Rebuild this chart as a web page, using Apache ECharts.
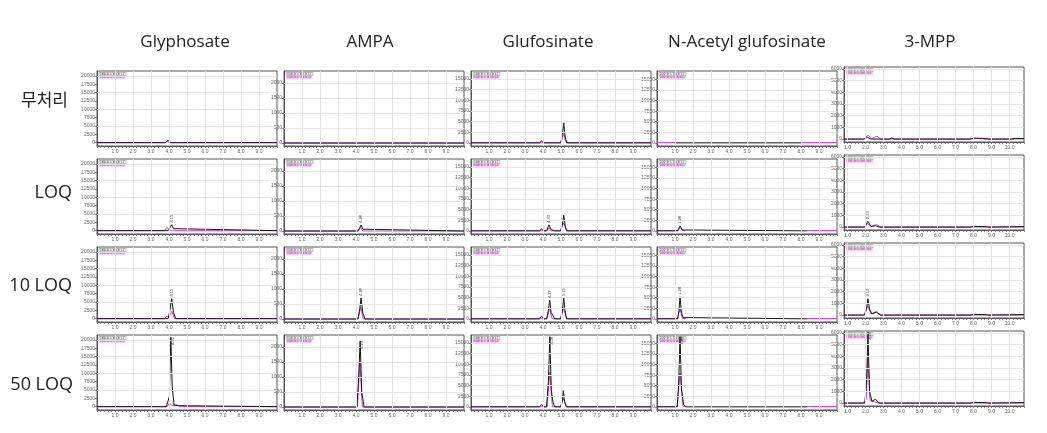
<!DOCTYPE html>
<html><head><meta charset="utf-8">
<script src="https://cdn.jsdelivr.net/npm/echarts@6/dist/echarts.min.js"></script>
<style>html,body{margin:0;padding:0;background:#fff}#c{width:1047px;height:433px}</style>
</head><body><div id="c"></div><script>
// ---------- labels ----------
const colNames = ['Glyphosate', 'AMPA', 'Glufosinate', 'N-Acetyl glufosinate', '3-MPP'];
const rowNames = ['무처리', 'LOQ', '10 LOQ', '50 LOQ'];
const mrmQuant = ['168.0 > 63.0 (-)', '110.0 > 63.0 (-)', '180.0 > 63.0 (-)', '222.0 > 59.0 (-)', '151.0 > 63.0 (-)'];
const mrmQual  = ['168.0 > 150.0 (-)', '110.0 > 79.0 (-)', '180.0 > 95.0 (-)', '222.0 > 136.0 (-)', '151.0 > 107.0 (-)'];
// ---------- axes ----------
const xMinByCol = [0, 0, 0, 0, 0.8];
const xMaxByCol = [10, 10, 10, 10, 10.8];
const xTicksA = [1, 2, 3, 4, 5, 6, 7, 8, 9];
const xTicksB = [1, 2, 3, 4, 5, 6, 7, 8, 9, 10];
const yMinByCol = [-1000, -100, -750, -750, -250];
const yMaxByCol = [21500, 2400, 16900, 17000, 6150];
const yTicksGly  = [0, 2500, 5000, 7500, 10000, 12500, 15000, 17500, 20000];
const yTicksAmpa = [0, 500, 1000, 1500, 2000];
const yTicksGluf = [0, 2500, 5000, 7500, 10000, 12500, 15000];
const yTicksNag  = [0, 2500, 5000, 7500, 10000, 12500, 15000];
const yTicksMpp  = [0, 1000, 2000, 3000, 4000, 5000, 6000];
const yGridGly  = [5000, 10000, 15000, 20000];
const yGridAmpa = [500, 1000, 1500, 2000];
const yGridGluf = [2500, 5000, 7500, 10000, 12500, 15000];
const yGridNag  = [2500, 5000, 7500, 10000, 12500, 15000];
const yGridMpp  = [1000, 2000, 3000, 4000, 5000, 6000];

// ---------- traces (retention time, intensity); columns: Gly, AMPA, Gluf, N-Ac gluf, 3-MPP ----------
const untreatedQuant = [
  [[0,0],[3.8,0],[3.95,700],[4.1,0],[4.4,0],[4.5,300],[4.6,0],[10,0]],
  [[0,0],[10,0]],
  [[0,0],[3.8,0],[3.92,400],[4.05,0],[4.45,0],[4.55,350],[4.65,0],[4.98,0],[5.08,2000],[5.15,4700],[5.23,1500],[5.32,0],[10,0]],
  [[0.95,0],[8.05,0]],
  [[0.8,0],[1.9,0],[2.1,150],[2.3,0],[3.3,0],[3.45,80],[3.6,0],[5.0,0],[5.1,60],[5.2,0],[7.8,0],[8.0,80],[8.5,60],[8.9,0],[10.1,0],[10.3,60],[10.8,50]]
];
const untreatedQual = [
  [[0,0],[3.78,0],[3.9,500],[4.02,0],[10,0]],
  [[0,0],[10,0]],
  [[0,0],[4.98,0],[5.08,1000],[5.15,2500],[5.23,800],[5.32,0],[10,0]],
  [[0,60],[0.95,60],[1.0,'-'],[8.0,'-'],[8.05,60],[10,60]],
  [[0.8,0],[1.9,0],[2.13,330],[2.35,50],[2.63,250],[2.85,0],[7.8,0],[8.2,60],[8.6,0],[10.8,0]]
];
const loqQuant = [
  [[0,0],[3.95,0],[4.05,900],[4.15,1800],[4.25,600],[4.35,0],[10,0]],
  [[0,0],[4.1,0],[4.2,100],[4.28,200],[4.38,60],[4.48,0],[10,0]],
  [[0,0],[3.8,0],[3.92,400],[4.05,0],[4.2,0],[4.33,1400],[4.45,300],[4.55,200],[4.65,0],[4.98,0],[5.08,1600],[5.15,3700],[5.23,1200],[5.32,0],[10,0]],
  [[0,0],[1.15,0],[1.28,1200],[1.4,200],[1.5,0],[8.35,0]],
  [[0.8,0],[1.95,0],[2.13,500],[2.3,60],[2.55,120],[2.75,0],[3.4,0],[3.5,60],[3.6,0],[7.8,0],[8.0,60],[8.6,40],[8.9,0],[10.8,40]]
];
const loqQual = [
  [[0,0],[3.75,0],[3.88,1000],[4.0,300],[4.1,700],[4.2,0],[10,0]],
  [[0,0],[4.12,0],[4.25,120],[4.38,0],[10,0]],
  [[0,0],[4.22,0],[4.33,700],[4.45,0],[4.98,0],[5.15,1800],[5.32,0],[10,0]],
  [[0,60],[1.15,60],[1.28,600],[1.42,60],[1.6,60],[1.7,'-'],[8.3,'-'],[8.35,60],[10,60]],
  [[0.8,0],[1.95,0],[2.1,300],[2.3,50],[2.6,200],[2.85,0],[10.8,0]]
];
const loq10Quant = [
  [[0,0],[3.95,0],[4.05,2500],[4.15,6000],[4.25,1800],[4.38,0],[10,0]],
  [[0,0],[4.1,0],[4.2,300],[4.28,700],[4.38,200],[4.5,0],[10,0]],
  [[0,0],[3.8,0],[3.92,600],[4.05,0],[4.2,0],[4.3,2000],[4.37,4400],[4.45,1500],[4.55,800],[4.65,0],[4.98,0],[5.08,2000],[5.15,4900],[5.23,1500],[5.32,0],[10,0]],
  [[0,0],[1.15,0],[1.22,2000],[1.28,5200],[1.36,1500],[1.45,300],[1.55,0],[8.35,0]],
  [[0.8,0],[1.95,0],[2.05,500],[2.13,1400],[2.22,500],[2.35,100],[2.6,250],[2.8,0],[3.4,0],[3.5,60],[3.6,0],[7.8,0],[8.0,60],[8.6,40],[8.9,0],[10.8,40]]
];
const loq10Qual = [
  [[0,0],[3.75,0],[3.88,800],[4.0,500],[4.15,2200],[4.3,0],[10,0]],
  [[0,0],[4.12,0],[4.27,400],[4.4,0],[10,0]],
  [[0,0],[4.22,0],[4.37,2500],[4.5,0],[4.98,0],[5.15,2600],[5.32,0],[10,0]],
  [[0,60],[1.15,60],[1.28,2400],[1.42,60],[1.6,60],[1.7,'-'],[8.3,'-'],[8.35,60],[10,60]],
  [[0.8,0],[1.9,0],[2.12,800],[2.3,100],[2.6,300],[2.85,0],[10.8,0]]
];
const loq50Quant = [
  [[0,0],[3.85,0],[3.95,-300],[4.02,3000],[4.1,20800],[4.18,6000],[4.28,500],[4.45,300],[4.55,0],[10,0]],
  [[0,0],[4.05,0],[4.15,1000],[4.23,2200],[4.32,500],[4.45,0],[10,0]],
  [[0,0],[3.8,0],[3.92,500],[4.05,0],[4.2,0],[4.3,6000],[4.38,16500],[4.46,4000],[4.55,1200],[4.65,0],[4.98,0],[5.08,1500],[5.13,3800],[5.2,1200],[5.3,0],[10,0]],
  [[0,0],[1.12,0],[1.2,5000],[1.28,16600],[1.36,4000],[1.48,500],[1.6,0],[8.35,0]],
  [[0.8,0],[1.95,0],[2.05,1500],[2.13,6050],[2.22,1000],[2.35,150],[2.55,330],[2.75,0],[3.4,0],[3.5,60],[3.6,0],[7.8,0],[8.0,60],[8.6,40],[8.9,0],[10.8,40]]
];
const loq50Qual = [
  [[0,0],[3.9,0],[4.03,1200],[4.15,300],[4.45,600],[4.6,0],[10,0]],
  [[0,0],[4.08,0],[4.22,1500],[4.35,0],[10,0]],
  [[0,0],[4.22,0],[4.38,8200],[4.52,0],[4.98,0],[5.13,2000],[5.3,0],[10,0]],
  [[0,60],[1.12,60],[1.28,8000],[1.45,60],[1.6,60],[1.7,'-'],[8.3,'-'],[8.35,60],[10,60]],
  [[0.8,0],[1.8,0],[1.95,100],[2.03,300],[2.12,3850],[2.25,200],[2.5,100],[2.7,0],[10.8,0]]
];
// retention times annotated on the quantifier trace
const peakMarksLoq   = [[4.15], [4.28], [4.33], [1.28], [2.13]];
const peakMarksLoq10 = [[4.15], [4.28], [4.37, 5.15], [1.28], [2.13]];
const peakMarksLoq50 = [[4.1], [4.23], [4.38], [1.28], [2.13]];

// ---------- assemble ----------
const quantRows = [untreatedQuant, loqQuant, loq10Quant, loq50Quant];
const qualRows  = [untreatedQual, loqQual, loq10Qual, loq50Qual];
const markRows  = [[[], [], [], [], []], peakMarksLoq, peakMarksLoq10, peakMarksLoq50];
const yTicksByCol = [yTicksGly, yTicksAmpa, yTicksGluf, yTicksNag, yTicksMpp];
const yGridByCol = [yGridGly, yGridAmpa, yGridGluf, yGridNag, yGridMpp];
const xTicksByCol = [xTicksA, xTicksA, xTicksA, xTicksA, xTicksB];

const colLeft = [97, 284, 471, 657, 844];
const rowTop = [71, 159, 247, 335];
const colShift = [0, 0, 0, 0, -4];
const W = 180, H = 75;
const BLACK = '#151515', PINK = '#d93ed3';

const grids = [], xAxes = [], yAxes = [], series = [], graphics = [];
for (let r = 0; r < 4; r++) {
  for (let c = 0; c < 5; c++) {
    const idx = r * 5 + c;
    const L = colLeft[c], T = rowTop[r] + colShift[c];
    grids.push({ left: L, top: T, width: W, height: H, show: true, borderColor: '#555', borderWidth: 1, backgroundColor: '#fff' });
    xAxes.push({
      type: 'value', gridIndex: idx, min: xMinByCol[c], max: xMaxByCol[c], interval: 0.2,
      axisLine: { show: true, onZero: false, lineStyle: { color: '#555', width: 1 } },
      axisTick: { show: true, length: 2, lineStyle: { color: '#666', width: 0.8 } },
      axisLabel: { customValues: xTicksByCol[c], fontSize: 5, color: '#666', margin: 3, formatter: v => v.toFixed(1) },
      splitLine: { show: false }
    });
    yAxes.push({
      type: 'value', gridIndex: idx, min: yMinByCol[c], max: yMaxByCol[c],
      axisLine: { show: true, onZero: false, lineStyle: { color: '#555', width: 1 } },
      axisTick: { show: true, customValues: yTicksByCol[c], length: 2, lineStyle: { color: '#666', width: 0.8 } },
      axisLabel: { customValues: yTicksByCol[c], fontSize: 5, color: '#666', margin: 2, formatter: v => String(v) },
      splitLine: { show: false }
    });
    // light grid lines
    const gl = xTicksByCol[c].map(v => ({ xAxis: v })).concat(yGridByCol[c].map(v => ({ yAxis: v })));
    series.push({
      type: 'line', xAxisIndex: idx, yAxisIndex: idx, data: [], z: 1, silent: true,
      markLine: { silent: true, symbol: 'none', label: { show: false }, animation: false,
        lineStyle: { type: 'solid', color: '#e5e5e5', width: 1 }, data: gl }
    });
    // qualifier (pink) drawn beneath the quantifier (black)
    series.push({
      type: 'line', name: mrmQual[c], xAxisIndex: idx, yAxisIndex: idx, data: qualRows[r][c],
      showSymbol: false, connectNulls: false, lineStyle: { color: PINK, width: 1 }, z: 3, silent: true
    });
    const qd = quantRows[r][c];
    const marks = markRows[r][c].map(t => {
      const p = qd.find(d => d[0] === t);
      return { coord: [p[0], p[1]], value: p[0].toFixed(2) };
    });
    series.push({
      type: 'line', name: mrmQuant[c], xAxisIndex: idx, yAxisIndex: idx, data: qd,
      showSymbol: false, connectNulls: false, lineStyle: { color: BLACK, width: 1 }, z: 4, silent: true,
      markPoint: marks.length ? {
        symbol: 'circle', symbolSize: 0.1, silent: true, animation: false,
        label: r === 3
          ? { show: true, position: 'right', distance: 2, rotate: 90, align: 'right', verticalAlign: 'middle', fontSize: 4, color: '#333', formatter: p => p.value }
          : { show: true, position: 'top', distance: 2, rotate: 90, align: 'left', verticalAlign: 'middle', fontSize: 4, color: '#333', formatter: p => p.value },
        data: marks
      } : undefined
    });
    // small trace legend box in the upper left of the panel
    graphics.push({
      type: 'group', x: L + 2, y: T + 1.5, silent: true, children: [
        { type: 'rect', shape: { x: 0, y: 0, width: 27, height: 3 }, style: { fill: '#f2f2f2', stroke: '#888', lineWidth: 0.5 } },
        { type: 'text', x: 1, y: 0.1, style: { text: mrmQuant[c], fontSize: 3, fill: '#222', fontFamily: 'DejaVu Sans' } },
        { type: 'rect', shape: { x: 0, y: 3, width: 26, height: 3 }, style: { fill: '#f1b0ec' } },
        { type: 'text', x: 1, y: 3.1, style: { text: mrmQual[c], fontSize: 3, fill: '#c21fc0', fontFamily: 'DejaVu Sans' } }
      ]
    });
  }
}
// column headers
const headerX = [185, 370, 548, 747, 930];
colNames.forEach((n, i) => graphics.push({
  type: 'text', x: headerX[i], y: 42, silent: true,
  style: { text: n, fontSize: 17, fontFamily: 'Open Sans', fill: '#222', align: 'center', verticalAlign: 'middle' }
}));
// row labels
const rowLabelY = [100, 193, 286, 385];
const rowLabelRight = [68, 72, 72, 73];
rowNames.forEach((n, i) => graphics.push({
  type: 'text', x: rowLabelRight[i], y: rowLabelY[i], silent: true,
  style: { text: n, fontSize: i === 0 ? 17 : 18, fontFamily: i === 0 ? 'Noto Sans CJK KR' : 'Open Sans', fill: '#222', align: 'right', verticalAlign: 'middle' }
}));

const chart = echarts.init(document.getElementById('c'), null, { renderer: 'canvas' });
chart.setOption({
  animation: false,
  backgroundColor: '#fff',
  grid: grids, xAxis: xAxes, yAxis: yAxes, series: series, graphic: graphics
});
</script></body></html>
